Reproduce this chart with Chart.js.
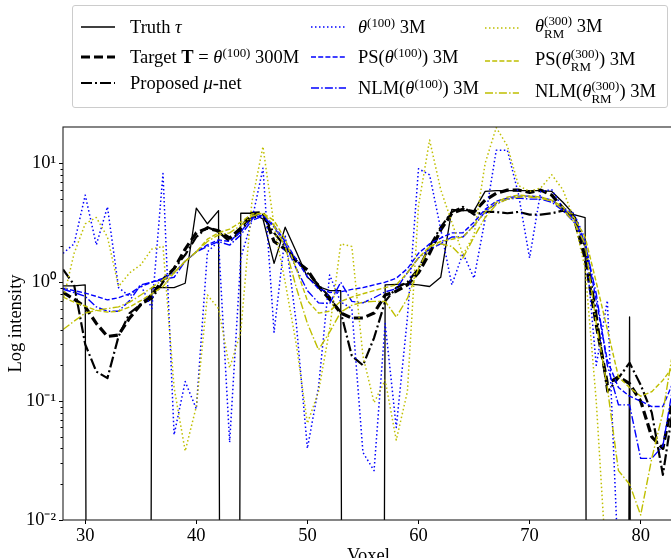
<!DOCTYPE html>
<html><head><meta charset="utf-8">
<script src="https://cdn.jsdelivr.net/npm/chart.js@4.4.0/dist/chart.umd.min.js"></script>
<style>
html,body{margin:0;padding:0;background:#fff;overflow:hidden;width:671px;height:558px;}
#wrap{position:absolute;left:0;top:0;width:700px;height:570px;}
#legend{position:absolute;left:72px;top:5px;width:596px;height:103px;border:1px solid #cccccc;border-radius:3px;background:rgba(255,255,255,0.8);font-family:"Liberation Serif",serif;font-size:18.5px;color:#000;box-sizing:border-box;}
.lab{position:absolute;white-space:nowrap;transform:translateY(-50%);line-height:1.2;}
.lab i{font-style:italic;}
.sp{font-size:0.7em;position:relative;top:-0.5em;}
.ss{display:inline-block;font-size:0.7em;line-height:1.0;vertical-align:-0.45em;}
.ss span{display:block;}
svg.h{position:absolute;overflow:visible;}
</style></head><body>
<div id="wrap"><canvas id="c" width="700" height="570"></canvas></div>
<div id="legend"></div>
<script>
// ---- data ----
const voxels = [28,29,30,31,32,33,34,35,36,37,38,39,40,41,42,43,44,45,46,47,48,49,50,51,52,53,54,55,56,57,58,59,60,61,62,63,64,65,66,67,68,69,70,71,72,73,74,75,76,77,78,79,80,81,82,83];
const truthTau = [0.93,0.93,0.95,0,0,0,0,0,0.90,0.90,0.90,0.98,4.2,3.1,4.0,0,3.8,3.8,3.4,1.44,2.9,1.8,1.1,0.92,0.85,0.85,0,0,0,0.95,0.96,0.97,0.95,0.92,1.1,4.1,4.0,4.0,5.8,5.9,5.9,5.9,5.9,5.9,5.8,4.7,3.7,3.5,0,0,0,0.51,0,0,0,0];
const targetT = [0.82,0.72,0.62,0.45,0.35,0.36,0.5,0.65,0.78,1.05,1.3,1.9,2.6,2.85,2.7,2.35,2.85,3.8,3.85,2.2,1.9,1.5,1.27,0.92,0.72,0.55,0.5,0.5,0.55,0.78,0.84,0.95,1.2,1.75,2.75,3.8,4.1,3.9,4.9,5.6,5.95,5.95,5.7,5.95,5.4,4.2,3.5,1.6,0.44,0.14,0.16,0.14,0.1,0.05,0.04,0.12];
const proposedMu = [1.28,0.95,0.3,0.177,0.156,0.35,0.55,0.65,0.73,1.0,1.3,1.7,2.4,2.9,2.65,2.2,2.7,3.5,3.6,2.6,2.0,1.55,1.2,0.95,0.75,0.56,0.24,0.2,0.34,0.69,0.9,1.0,1.3,2.0,2.9,3.9,4.3,3.7,3.9,3.9,3.8,3.9,3.7,3.7,3.8,4.0,3.7,2.0,0.55,0.12,0.156,0.21,0.137,0.08,0.024,0.1];
const theta100 = [1.75,2.1,5.4,2.06,4.3,0.9,0.76,0.95,0.6,8.2,0.052,0.146,0.086,1.8,2.2,0.045,1.6,3.3,9.1,0.38,2.5,0.45,0.04,0.13,1.15,0.68,0.6,0.037,0.026,0.45,0.06,0.5,9.0,8.0,2.8,0.95,1.75,1.08,3.4,12.9,12.9,5.5,1.6,5.8,6.0,4.2,3.8,2.3,0.2,0.7,0.004,0.004,0.004,0.004,0.004,0.004];
const psTheta100 = [0.89,0.85,0.81,0.76,0.71,0.74,0.8,0.92,1.0,1.08,1.2,1.5,1.8,2.06,2.27,2.2,2.66,3.45,3.67,3.0,2.2,1.55,1.11,0.88,0.82,0.83,0.87,0.9,0.95,1.0,1.08,1.3,1.75,2.1,2.35,2.6,2.6,3.2,4.1,4.8,5.1,5.3,5.3,5.2,4.9,4.2,3.4,2.2,0.7,0.22,0.13,0.11,0.1,0.09,0.09,0.15];
const nlmTheta100 = [0.87,0.82,0.76,0.62,0.57,0.57,0.7,0.95,1.0,1.05,1.1,1.5,1.8,2.0,2.2,2.05,2.5,3.3,3.6,2.9,2.1,1.3,0.85,0.67,0.66,1.0,0.69,0.67,0.74,0.83,0.88,1.2,1.6,1.9,2.1,2.4,2.4,3.0,3.9,4.6,5.0,5.1,5.0,5.0,4.7,4.0,3.2,2.1,0.8,0.2,0.093,0.093,0.033,0.033,0.042,0.15];
const thetaRM300 = [0.7,1.75,3.1,3.5,2.4,0.92,1.2,1.4,1.9,2.0,0.13,0.038,0.09,0.78,0.6,0.19,0.38,4.7,13.8,3.0,1.0,0.3,0.065,0.12,0.4,2.1,2.0,0.24,0.097,0.15,0.047,0.12,4.4,15.7,6.0,3.2,1.7,2.5,10,20,14,6.5,5.8,6.2,8.0,6.0,3.4,1.3,0.1,0.003,0.003,0.003,0.003,0.003,0.003,0.003];
const psThetaRM300 = [0.75,0.68,0.63,0.58,0.56,0.57,0.62,0.7,0.8,0.92,1.2,1.5,1.8,2.3,2.6,2.8,3.2,3.75,3.8,3.3,2.3,1.3,0.7,0.55,0.57,0.69,0.75,0.8,0.85,0.9,0.95,1.2,1.6,2.0,2.2,2.3,2.4,3.0,3.9,4.7,5.2,5.4,5.3,5.2,4.9,4.3,3.5,2.4,1.0,0.4,0.16,0.13,0.11,0.12,0.15,0.2];
const nlmThetaRM300 = [0.4,0.47,0.55,0.58,0.6,0.62,0.68,0.78,0.9,1.05,1.2,1.5,1.8,2.2,2.5,2.6,3.0,3.6,3.8,3.0,2.0,0.9,0.45,0.27,0.38,0.56,0.64,0.68,0.69,0.69,0.51,0.73,1.3,2.0,2.1,2.0,1.6,2.4,3.5,4.5,5.0,5.2,5.2,5.1,4.8,4.1,3.2,2.1,0.45,0.13,0.026,0.02,0.011,0.033,0.08,0.3];
const xTicks = [30,40,50,60,70,80];
const yMajorTicks = [0.01,0.1,1,10];
const yTickLabels = ['10\u207B\u00B2','10\u207B\u00B9','10\u2070','10\u00B9'];
const seriesNames = ['Truth \u03C4','Target T = \u03B8(100) 300M','Proposed \u03BC-net','\u03B8(100) 3M','PS(\u03B8(100)) 3M','NLM(\u03B8(100)) 3M','\u03B8RM(300) 3M','PS(\u03B8RM(300)) 3M','NLM(\u03B8RM(300)) 3M'];
const legendHtml = [
 'Truth <i>\u03C4</i>',
 'Target <b>T</b> = <i>\u03B8</i><span class="sp">(100)</span> 300M',
 'Proposed <i>\u03BC</i>-net',
 '<i>\u03B8</i><span class="sp">(100)</span> 3M',
 'PS(<i>\u03B8</i><span class="sp">(100)</span>) 3M',
 'NLM(<i>\u03B8</i><span class="sp">(100)</span>) 3M',
 '<i>\u03B8</i><span class="ss"><span>(300)</span><span>RM</span></span> 3M',
 'PS(<i>\u03B8</i><span class="ss"><span>(300)</span><span>RM</span></span>) 3M',
 'NLM(<i>\u03B8</i><span class="ss"><span>(300)</span><span>RM</span></span>) 3M'
];
const allSeries = [truthTau,targetT,proposedMu,theta100,psTheta100,nlmTheta100,thetaRM300,psThetaRM300,nlmThetaRM300];

// ---- styles ----
const BLUE='#0000ff', YEL='#bfbf00', BLK='#000000';
const styles = [
 {c:BLK,w:1.3,d:[]},
 {c:BLK,w:3.2,d:[9,4]},
 {c:BLK,w:2.2,d:[11,3,2,3]},
 {c:BLUE,w:1.5,d:[1.5,2.5]},
 {c:BLUE,w:1.4,d:[5,2.2]},
 {c:BLUE,w:1.4,d:[8,2.2,1.5,2.2]},
 {c:YEL,w:1.5,d:[1.5,2.5]},
 {c:YEL,w:1.4,d:[5,2.2]},
 {c:YEL,w:1.4,d:[8,2.2,1.5,2.2]}
];
const FONT = '"Liberation Serif", "Times New Roman", serif';
const FS = 18.5;

const datasets = allSeries.map((arr,i)=>({
  label: seriesNames[i],
  data: voxels.map((v,k)=>({x:v, y: arr[k] > 0 ? arr[k] : 1e-30})),
  borderColor: styles[i].c,
  borderWidth: styles[i].w,
  borderDash: styles[i].d,
  borderCapStyle: 'butt',
  borderJoinStyle: 'round',
  pointRadius: 0,
  tension: 0,
  fill: false,
  clip: 0,
  order: 20 - i
}));

const yAll = [];
for (let e=-2;e<=1;e++) for (let m=1;m<=9;m++){ const v=+(m*Math.pow(10,e)).toPrecision(3); if (v<20) yAll.push(v); }
function majorIdx(v){ return yMajorTicks.findIndex(t=>Math.abs(Math.log10(v)-Math.log10(t))<1e-6); }

const framePlugin = {
  id:'frame',
  afterDraw(chart){
    const {ctx, chartArea:a} = chart;
    const ys = chart.scales.y;
    ctx.save();
    ctx.strokeStyle='#000'; ctx.lineWidth=1;
    yAll.forEach(v=>{ if (majorIdx(v)<0){ const p=Math.round(ys.getPixelForValue(v))+0.5; ctx.beginPath(); ctx.moveTo(a.left-2.5,p); ctx.lineTo(a.left,p); ctx.stroke(); }});
    ctx.strokeStyle='#222'; ctx.lineWidth=1.1;
    ctx.strokeRect(a.left, a.top, a.right-a.left, a.bottom-a.top);
    ctx.restore();
  }
};

new Chart(document.getElementById('c'), {
  type:'line',
  data:{datasets},
  plugins:[framePlugin],
  options:{
    responsive:false, animation:false, devicePixelRatio:1,
    layout:{padding:{left:0,top:127,right:26,bottom:0}},
    plugins:{legend:{display:false}, tooltip:{enabled:false}},
    scales:{
      x:{type:'linear', min:28, max:83,
        afterFit:s=>{s.height=50;},
        afterBuildTicks:s=>{s.ticks=xTicks.map(v=>({value:v}));},
        ticks:{color:'#000', font:{family:FONT,size:FS}, padding:1, maxRotation:0, autoSkip:false},
        grid:{drawOnChartArea:false, drawTicks:true, tickLength:4, tickColor:'#000'},
        border:{display:false},
        title:{display:true, text:'Voxel', color:'#000', font:{family:FONT,size:FS}, padding:{top:0,bottom:3}}
      },
      y:{type:'logarithmic', min:0.01, max:20.2,
        afterFit:s=>{s.width=63;},
        afterBuildTicks:s=>{s.ticks=yAll.map(v=>({value:v, major: majorIdx(v)>=0}));},
        ticks:{color:'#000', font:{family:FONT,size:FS}, padding:3, autoSkip:false,
          callback:(v)=>{const k=majorIdx(v); return k>=0?yTickLabels[k]:'';}},
        grid:{drawOnChartArea:false, drawTicks:true, tickLength:4,
          tickColor:(ctx)=> (ctx.tick && majorIdx(ctx.tick.value)>=0) ? '#000' : 'rgba(0,0,0,0)'},
        border:{display:false},
        title:{display:true, text:'Log intensity', color:'#000', font:{family:FONT,size:FS}, padding:{top:5,bottom:0}}
      }
    }
  }
});

// ---- legend (HTML overlay) ----
const LX=72, LY=5;
const handleX = [[80,114],[310,345],[484,518]];
const textX = [129,357,534];
const rowY = [[26,56,82],[26,56,87],[27,60,92]];
const leg = document.getElementById('legend');
for (let i=0;i<9;i++){
  const col=Math.floor(i/3), row=i%3, st=styles[i];
  const y=rowY[col][row]-LY;
  const x1=handleX[col][0]-LX, x2=handleX[col][1]-LX;
  const svgNS='http://www.w3.org/2000/svg';
  const svg=document.createElementNS(svgNS,'svg');
  svg.setAttribute('class','h'); svg.setAttribute('width',x2-x1); svg.setAttribute('height',8);
  svg.style.left=x1+'px'; svg.style.top=(y-4)+'px';
  const ln=document.createElementNS(svgNS,'line');
  ln.setAttribute('x1',0); ln.setAttribute('x2',x2-x1); ln.setAttribute('y1',4); ln.setAttribute('y2',4);
  ln.setAttribute('stroke',st.c); ln.setAttribute('stroke-width',st.w);
  if (st.d.length) ln.setAttribute('stroke-dasharray',st.d.join(' '));
  svg.appendChild(ln); leg.appendChild(svg);
  const t=document.createElement('div'); t.className='lab'; t.innerHTML=legendHtml[i];
  t.style.left=(textX[col]-LX)+'px'; t.style.top=y+'px';
  leg.appendChild(t);
}
</script>
</body></html>
